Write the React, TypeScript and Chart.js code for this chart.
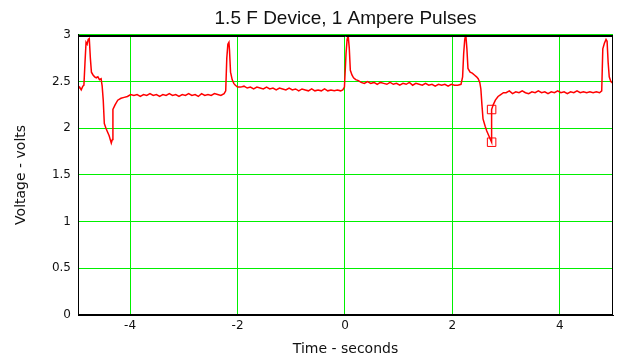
import React, { useEffect, useRef } from "react";
import { Chart, registerables } from "chart.js";

Chart.register(...registerables);

const chartTitle = "1.5 F Device, 1 Ampere Pulses";
const xTitle = "Time - seconds";
const yTitle = "Voltage - volts";
const xTicks = [-4, -2, 0, 2, 4];
const yTicks = [0, 0.5, 1, 1.5, 2, 2.5, 3];
const xMin = -4.97;
const xMax = 4.99;

// [time s, voltage V]
const pulse1: [number, number][] = [
  [-4.97, 2.42], [-4.94, 2.44], [-4.91, 2.41], [-4.88, 2.45], [-4.86, 2.46],
  [-4.84, 2.7], [-4.82, 2.92], [-4.8, 2.9], [-4.78, 2.95], [-4.76, 2.96],
  [-4.74, 2.75], [-4.72, 2.6], [-4.69, 2.57], [-4.66, 2.55], [-4.63, 2.54],
  [-4.6, 2.55], [-4.57, 2.52], [-4.54, 2.53], [-4.52, 2.45], [-4.5, 2.3],
  [-4.48, 2.05], [-4.45, 2.0], [-4.42, 1.96], [-4.39, 1.92], [-4.35, 1.84],
  [-4.33, 1.88], [-4.32, 2.2], [-4.28, 2.25], [-4.23, 2.3], [-4.17, 2.32],
  [-4.11, 2.33],
];
const flat1: [number, number][] = [
  [-4.05, 2.34], [-3.99, 2.36], [-3.93, 2.35], [-3.87, 2.36], [-3.81, 2.34],
  [-3.75, 2.36], [-3.69, 2.35], [-3.63, 2.37], [-3.57, 2.35], [-3.51, 2.36],
  [-3.45, 2.34], [-3.39, 2.36], [-3.33, 2.35], [-3.27, 2.37], [-3.21, 2.35],
  [-3.15, 2.36], [-3.09, 2.34], [-3.03, 2.36], [-2.97, 2.35], [-2.91, 2.37],
  [-2.85, 2.35], [-2.79, 2.36], [-2.73, 2.34], [-2.67, 2.37], [-2.61, 2.35],
  [-2.55, 2.36], [-2.49, 2.35], [-2.43, 2.37], [-2.37, 2.36], [-2.31, 2.35],
  [-2.25, 2.37],
];
const pulse2: [number, number][] = [
  [-2.22, 2.4], [-2.2, 2.75], [-2.18, 2.9], [-2.16, 2.92], [-2.15, 2.84],
  [-2.13, 2.6], [-2.1, 2.52], [-2.07, 2.48], [-2.04, 2.46], [-2.0, 2.44],
];
const flat2: [number, number][] = [
  [-1.94, 2.44], [-1.88, 2.45], [-1.82, 2.43], [-1.76, 2.44], [-1.7, 2.42],
  [-1.64, 2.44], [-1.58, 2.43], [-1.52, 2.42], [-1.46, 2.44], [-1.4, 2.42],
  [-1.34, 2.43], [-1.28, 2.41], [-1.22, 2.43], [-1.16, 2.42], [-1.1, 2.41],
  [-1.04, 2.43], [-0.98, 2.41], [-0.92, 2.42], [-0.86, 2.4], [-0.8, 2.42],
  [-0.74, 2.41], [-0.68, 2.4], [-0.62, 2.42], [-0.56, 2.4], [-0.5, 2.41],
  [-0.44, 2.4], [-0.38, 2.42], [-0.32, 2.4], [-0.26, 2.41], [-0.2, 2.4],
  [-0.14, 2.41], [-0.08, 2.4], [-0.04, 2.41],
];
const pulse3: [number, number][] = [
  [-0.01, 2.44], [0.02, 2.8], [0.04, 2.95], [0.06, 2.99], [0.08, 2.86],
  [0.1, 2.62], [0.13, 2.57], [0.16, 2.54], [0.2, 2.52], [0.25, 2.51],
  [0.3, 2.49],
];
const flat3: [number, number][] = [
  [0.36, 2.48], [0.42, 2.5], [0.48, 2.48], [0.54, 2.49], [0.6, 2.47],
  [0.66, 2.49], [0.72, 2.48], [0.78, 2.47], [0.84, 2.49], [0.9, 2.47],
  [0.96, 2.48], [1.02, 2.46], [1.08, 2.48], [1.14, 2.47], [1.2, 2.49],
  [1.26, 2.46], [1.32, 2.48], [1.38, 2.47], [1.44, 2.46], [1.5, 2.48],
  [1.56, 2.46], [1.62, 2.47], [1.68, 2.45], [1.74, 2.47], [1.8, 2.46],
  [1.86, 2.47], [1.92, 2.45], [1.98, 2.47], [2.04, 2.46], [2.1, 2.46],
  [2.16, 2.47],
];
const pulse4: [number, number][] = [
  [2.19, 2.55], [2.21, 2.8], [2.23, 2.95], [2.25, 3.0], [2.27, 2.85],
  [2.29, 2.64], [2.33, 2.6], [2.37, 2.59], [2.41, 2.57], [2.45, 2.55],
  [2.48, 2.53], [2.51, 2.49], [2.53, 2.42], [2.55, 2.25], [2.57, 2.1],
  [2.61, 2.02], [2.64, 1.97], [2.67, 1.93], [2.7, 1.89], [2.73, 1.85],
  [2.73, 2.2], [2.76, 2.25], [2.8, 2.3], [2.85, 2.34], [2.9, 2.36],
  [2.95, 2.38],
];
const flat4: [number, number][] = [
  [3.0, 2.38], [3.06, 2.4], [3.12, 2.37], [3.18, 2.39], [3.24, 2.38],
  [3.3, 2.4], [3.36, 2.38], [3.42, 2.37], [3.48, 2.39], [3.54, 2.38],
  [3.6, 2.4], [3.66, 2.38], [3.72, 2.39], [3.78, 2.37], [3.84, 2.39],
  [3.9, 2.38], [3.96, 2.4], [4.02, 2.38], [4.08, 2.39], [4.14, 2.37],
  [4.2, 2.39], [4.26, 2.38], [4.32, 2.4], [4.38, 2.38], [4.44, 2.39],
  [4.5, 2.38], [4.56, 2.39], [4.62, 2.38], [4.68, 2.39], [4.74, 2.38],
];
const pulse5: [number, number][] = [
  [4.78, 2.4], [4.8, 2.85], [4.83, 2.91], [4.86, 2.95], [4.88, 2.93],
  [4.9, 2.7], [4.92, 2.55], [4.95, 2.5], [4.99, 2.48],
];
const markers: [number, number][] = [
  [2.73, 2.2],
  [2.73, 1.85],
];

const GREEN = "#00f000";
const RED = "#ff0000";
const TEXT = "#111111";

export default function App() {
  const ref = useRef<HTMLCanvasElement | null>(null);

  useEffect(() => {
    if (!ref.current) return;
    const trace = [
      ...pulse1, ...flat1, ...pulse2, ...flat2, ...pulse3,
      ...flat3, ...pulse4, ...flat4, ...pulse5,
    ].map(([x, y]) => ({ x, y }));
    const marks = markers.map(([x, y]) => ({ x, y }));

    const frame = {
      id: "frame",
      afterDatasetsDraw(chart: any) {
        const { ctx, chartArea: a } = chart;
        ctx.save();
        ctx.strokeStyle = "#000";
        ctx.lineWidth = 1;
        ctx.strokeRect(
          Math.round(a.left) + 0.5,
          Math.round(a.top) + 0.5,
          Math.round(a.right - a.left) - 1,
          Math.round(a.bottom - a.top) - 1
        );
        ctx.beginPath();
        ctx.moveTo(a.left, Math.round(a.top) + 1.5);
        ctx.lineTo(a.right, Math.round(a.top) + 1.5);
        ctx.stroke();
        ctx.restore();
      },
    };

    const tickFont = { family: "'DejaVu Sans', sans-serif", size: 12 };
    const chart = new Chart(ref.current, {
      type: "scatter",
      data: {
        datasets: [
          {
            data: trace,
            showLine: true,
            borderColor: RED,
            backgroundColor: RED,
            borderWidth: 1.5,
            pointRadius: 0,
            tension: 0,
          },
          {
            data: marks,
            showLine: false,
            pointStyle: "rect",
            pointRadius: 6,
            borderColor: RED,
            backgroundColor: "rgba(0,0,0,0)",
            borderWidth: 1,
          },
        ],
      },
      options: {
        animation: false,
        responsive: false,
        maintainAspectRatio: false,
        layout: { autoPadding: false, padding: { left: 0, right: 4, top: 0, bottom: 0 } },
        plugins: {
          legend: { display: false },
          tooltip: { enabled: false },
          title: {
            display: true,
            text: chartTitle,
            fullSize: false,
            color: TEXT,
            font: { family: "'Liberation Sans', Arial, sans-serif", size: 19, weight: "normal", lineHeight: 1.2 },
            padding: { top: 7, bottom: 5 },
          },
        },
        scales: {
          x: {
            type: "linear",
            min: xMin,
            max: xMax,
            afterBuildTicks: (s: any) => {
              s.ticks = xTicks.map((v) => ({ value: v }));
            },
            afterFit: (s: any) => {
              s.height = 41;
              s.paddingLeft = 0;
              s.paddingRight = 0;
            },
            grid: { color: GREEN, lineWidth: 1, drawTicks: false },
            border: { display: true, color: "#000", width: 1 },
            ticks: {
              color: TEXT,
              font: tickFont,
              padding: 4,
              maxRotation: 0,
              callback: (v: any) => String(v),
            },
            title: {
              display: true,
              text: xTitle,
              color: TEXT,
              font: { family: "'DejaVu Sans', sans-serif", size: 14, lineHeight: 1.0 },
              padding: { top: 0, bottom: 0 },
            },
          },
          y: {
            type: "linear",
            min: 0,
            max: 3,
            afterBuildTicks: (s: any) => {
              s.ticks = yTicks.map((v) => ({ value: v }));
            },
            afterFit: (s: any) => {
              s.width = 78;
              s.paddingTop = 0;
              s.paddingBottom = 0;
            },
            grid: { color: GREEN, lineWidth: 1, drawTicks: false },
            border: { display: true, color: "#000", width: 1 },
            ticks: {
              color: TEXT,
              font: tickFont,
              padding: 7,
              callback: (v: any) => String(v),
            },
            title: {
              display: true,
              text: yTitle,
              color: TEXT,
              font: { family: "'DejaVu Sans', sans-serif", size: 14, lineHeight: 1.2 },
              padding: { top: 13, bottom: 0 },
            },
          },
        },
      },
      plugins: [frame],
    } as any);

    return () => chart.destroy();
  }, []);

  return (
    <div style={{ position: "fixed", left: 0, top: 0, width: 617, height: 356, background: "#fff" }}>
      <canvas ref={ref} width={617} height={356} style={{ display: "block", width: 617, height: 356 }} />
    </div>
  );
}
